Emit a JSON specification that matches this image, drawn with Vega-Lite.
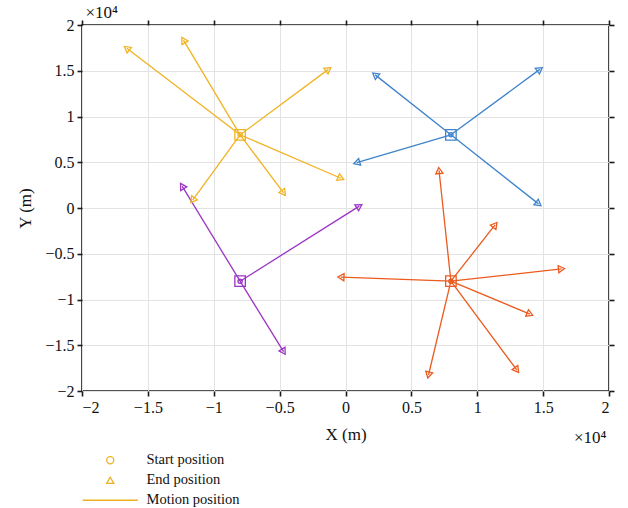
{
  "$schema": "https://vega.github.io/schema/vega-lite/v6.json",
  "width": 527,
  "height": 366,
  "autosize": {"type": "none"},
  "padding": {"left": 82, "top": 25, "right": 19, "bottom": 117},
  "config": {
    "font": "Liberation Serif",
    "view": {"stroke": "#1a1a1a", "strokeWidth": 1.6},
    "axis": {
      "domain": false,
      "tickColor": "#1a1a1a",
      "tickWidth": 1.6,
      "tickSize": 5,
      "labelColor": "#111",
      "labelFontSize": 16,
      "labelFont": "Liberation Serif",
      "titleFont": "Liberation Serif",
      "titleFontWeight": "normal",
      "titleColor": "#111",
      "titleFontSize": 17,
      "gridColor": "#e3e3e3",
      "gridWidth": 1
    },
    "legend": {
      "orient": "none",
      "legendX": 21,
      "legendY": 428,
      "title": null,
      "symbolStrokeColor": "#EDB120",
      "symbolFillColor": "transparent",
      "symbolSize": 50,
      "symbolStrokeWidth": 1.3,
      "labelFont": "Liberation Serif",
      "labelFontSize": 14.5,
      "labelColor": "#111",
      "labelOffset": 29,
      "rowPadding": 5
    }
  },
  "datasets": {
    "seg": [
      {"group": "A", "x0": -8000, "y0": 8000, "x1": -16600, "y1": 17450},
      {"group": "A", "x0": -8000, "y0": 8000, "x1": -12300, "y1": 18350},
      {"group": "A", "x0": -8000, "y0": 8000, "x1": -1300, "y1": 15150},
      {"group": "A", "x0": -8000, "y0": 8000, "x1": -350, "y1": 3250},
      {"group": "A", "x0": -8000, "y0": 8000, "x1": -4700, "y1": 1650},
      {"group": "A", "x0": -8000, "y0": 8000, "x1": -11600, "y1": 850},
      {"group": "B", "x0": 8000, "y0": 8000, "x1": 2250, "y1": 14550},
      {"group": "B", "x0": 8000, "y0": 8000, "x1": 14750, "y1": 15150},
      {"group": "B", "x0": 8000, "y0": 8000, "x1": 850, "y1": 4950},
      {"group": "B", "x0": 8000, "y0": 8000, "x1": 14650, "y1": 450},
      {"group": "C", "x0": 8000, "y0": -8000, "x1": 7100, "y1": 4100},
      {"group": "C", "x0": 8000, "y0": -8000, "x1": 11350, "y1": -1850},
      {"group": "C", "x0": 8000, "y0": -8000, "x1": 16400, "y1": -6650},
      {"group": "C", "x0": 8000, "y0": -8000, "x1": 14000, "y1": -11600},
      {"group": "C", "x0": 8000, "y0": -8000, "x1": 13000, "y1": -17700},
      {"group": "C", "x0": 8000, "y0": -8000, "x1": 6300, "y1": -18250},
      {"group": "C", "x0": 8000, "y0": -8000, "x1": -350, "y1": -7550},
      {"group": "D", "x0": -8000, "y0": -8000, "x1": -12400, "y1": 2400},
      {"group": "D", "x0": -8000, "y0": -8000, "x1": 1050, "y1": 200},
      {"group": "D", "x0": -8000, "y0": -8000, "x1": -4700, "y1": -15700}
    ]
  },
  "data": {"name": "seg"},
  "resolve": {"axis": {"x": "independent", "y": "independent"}},
  "layer": [
    {
      "mark": {"type": "rule", "strokeWidth": 1.3},
      "encoding": {
        "x": {
          "field": "x0", "type": "quantitative",
          "scale": {"domain": [-20000, 20000], "nice": false, "zero": false},
          "axis": {
            "orient": "bottom", "grid": true,
            "values": [-20000, -15000, -10000, -5000, 0, 5000, 10000, 15000, 20000],
            "labelExpr": "format(datum.value/10000, '~g')",
            "labelPadding": 3, "title": "X (m)", "titlePadding": 11
          }
        },
        "y": {
          "field": "y0", "type": "quantitative",
          "scale": {"domain": [-20000, 20000], "nice": false, "zero": false},
          "axis": {
            "orient": "left", "grid": true,
            "values": [-20000, -15000, -10000, -5000, 0, 5000, 10000, 15000, 20000],
            "labelExpr": "format(datum.value/10000, '~g')",
            "labelPadding": 3, "title": "Y (m)", "titlePadding": 10
          }
        },
        "x2": {"field": "x1"},
        "y2": {"field": "y1"},
        "color": {
          "field": "group", "type": "nominal",
          "scale": {"domain": ["A", "B", "C", "D"], "range": ["#F0B323", "#3F83CB", "#EB5A1E", "#9B34C4"]},
          "legend": null
        }
      }
    },
    {
      "transform": [
        {"calculate": "atan2(-(datum.y1 - datum.y0) * 366, (datum.x1 - datum.x0) * 527) * 180 / PI + 90", "as": "ang"}
      ],
      "mark": {"type": "point", "filled": false, "strokeWidth": 1.3, "opacity": 1, "size": 50},
      "encoding": {
        "x": {
          "field": "x1", "type": "quantitative",
          "axis": {
            "orient": "top", "grid": false, "labels": false,
            "values": [-20000, -15000, -10000, -5000, 0, 5000, 10000, 15000, 20000],
            "title": "×10⁴", "titleFontSize": 17, "titleX": 3, "titleY": -13,
            "titleAlign": "left", "titleBaseline": "middle", "titleAnchor": null
          }
        },
        "y": {
          "field": "y1", "type": "quantitative",
          "axis": {
            "orient": "right", "grid": false, "labels": false,
            "values": [-20000, -15000, -10000, -5000, 0, 5000, 10000, 15000, 20000],
            "title": "×10⁴", "titleFontSize": 17, "titleAngle": 0,
            "titleX": -3, "titleY": 412, "titleAlign": "right", "titleBaseline": "middle", "titleAnchor": null
          }
        },
        "color": {"field": "group", "type": "nominal", "legend": null},
        "angle": {"field": "ang", "type": "quantitative", "scale": null},
        "shape": {
          "datum": "End position", "type": "nominal",
          "scale": {
            "domain": ["Start position", "End position", "Motion position"],
            "range": ["circle", "triangle-up", "M-7.8,0H7.8"]
          }
        }
      }
    },
    {
      "transform": [
        {"aggregate": [{"op": "min", "field": "x0", "as": "sx"}, {"op": "min", "field": "y0", "as": "sy"}], "groupby": ["group"]}
      ],
      "mark": {"type": "point", "shape": "square", "filled": false, "strokeWidth": 1.3, "opacity": 1, "size": 110},
      "encoding": {
        "x": {"field": "sx", "type": "quantitative", "axis": null},
        "y": {"field": "sy", "type": "quantitative", "axis": null},
        "color": {"field": "group", "type": "nominal", "legend": null}
      }
    },
    {
      "transform": [
        {"aggregate": [{"op": "min", "field": "x0", "as": "sx"}, {"op": "min", "field": "y0", "as": "sy"}], "groupby": ["group"]}
      ],
      "mark": {"type": "point", "filled": false, "strokeWidth": 1.3, "opacity": 1, "size": 18},
      "encoding": {
        "x": {"field": "sx", "type": "quantitative", "axis": null},
        "y": {"field": "sy", "type": "quantitative", "axis": null},
        "color": {"field": "group", "type": "nominal", "legend": null},
        "shape": {"datum": "Start position", "type": "nominal"}
      }
    }
  ]
}
